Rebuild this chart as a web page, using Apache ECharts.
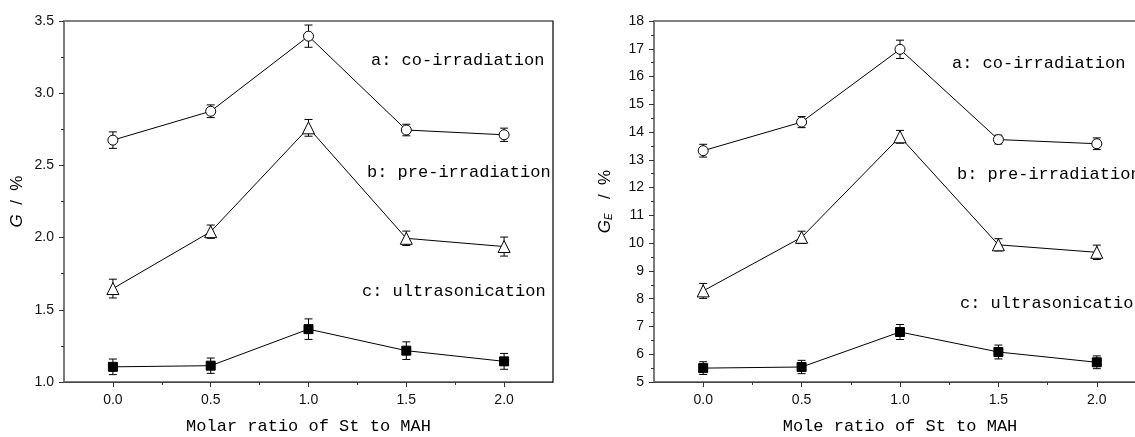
<!DOCTYPE html>
<html>
<head>
<meta charset="utf-8">
<script src="https://cdn.jsdelivr.net/npm/echarts@6/dist/echarts.min.js"></script>
<style>
  html, body { margin: 0; padding: 0; background: #fff; overflow: hidden; }
  #chart { width: 1135px; height: 437px; }
</style>
</head>
<body>
<div id="chart"></div>
<script>
// molar ratio St : MAH
const ratios = [0, 0.5, 1.0, 1.5, 2.0];
const majorTicks = [0, 0.5, 1.0, 1.5, 2.0];
const minorTicks = [0.25, 0.75, 1.25, 1.75];

// left panel: G / %
const gCoIrr = [2.675, 2.875, 3.395, 2.745, 2.712];
const gCoIrrErr = [0.057, 0.044, 0.077, 0.040, 0.046];
const gPreIrr = [1.647, 2.041, 2.760, 1.995, 1.938];
const gPreIrrErr = [0.065, 0.046, 0.058, 0.050, 0.066];
const gUltra = [1.105, 1.113, 1.366, 1.217, 1.143];
const gUltraErr = [0.054, 0.053, 0.071, 0.061, 0.055];

// right panel: GE / %
const geCoIrr = [13.33, 14.36, 16.98, 13.73, 13.58];
const geCoIrrErr = [0.23, 0.20, 0.33, 0.16, 0.21];
const gePreIrr = [8.28, 10.21, 13.83, 9.94, 9.67];
const gePreIrrErr = [0.27, 0.22, 0.23, 0.22, 0.26];
const geUltra = [5.50, 5.54, 6.80, 6.08, 5.71];
const geUltraErr = [0.23, 0.24, 0.27, 0.25, 0.23];

const labelA = 'a: co-irradiation';
const labelB = 'b: pre-irradiation';
const labelC = 'c: ultrasonication';

const mono = '"Liberation Mono", "DejaVu Sans Mono", monospace';
const sans = '"Liberation Sans", Arial, sans-serif';

const chart = echarts.init(document.getElementById('chart'));

function xAxes(grid, title) {
  return [
    {
      type: 'value', gridIndex: grid, min: -0.25, max: 2.25,
      name: title, nameLocation: 'middle', nameGap: 36,
      nameTextStyle: { fontFamily: mono, fontSize: 17, color: '#000' },
      axisLine: { onZero: false, lineStyle: { color: '#444', width: 1 } },
      axisTick: { inside: false, length: 5, customValues: majorTicks, lineStyle: { color: '#333' } },
      axisLabel: { customValues: majorTicks, margin: 11, fontFamily: sans, fontSize: 14, color: '#111',
        formatter: v => v.toFixed(1) },
      splitLine: { show: false }
    },
    {
      type: 'value', gridIndex: grid, min: -0.25, max: 2.25, position: 'bottom',
      axisLine: { show: false, onZero: false },
      axisTick: { length: 3, customValues: minorTicks, lineStyle: { color: '#333' } },
      axisLabel: { show: false },
      splitLine: { show: false }
    }
  ];
}

function yAxis(grid, min, max, interval, name, gap, fmt) {
  return {
    type: 'value', gridIndex: grid, min: min, max: max, interval: interval,
    name: name, nameLocation: 'middle', nameGap: gap, nameRotate: 90,
    nameTextStyle: {
      fontFamily: sans, fontSize: 17, color: '#000',
      rich: {
        i: { fontFamily: sans, fontStyle: 'italic', fontSize: 17, color: '#000' },
        sub: { fontFamily: sans, fontStyle: 'italic', fontSize: 10, color: '#000', verticalAlign: 'bottom', padding: [8, 0, 0, 0] }
      }
    },
    axisLine: { onZero: false, lineStyle: { color: '#7a7a7a', width: 2 } },
    axisTick: { length: 5, lineStyle: { color: '#333' } },
    minorTick: { show: true, splitNumber: 2, length: 3, lineStyle: { color: '#333' } },
    axisLabel: { margin: 10, fontFamily: sans, fontSize: 14, color: '#111', formatter: fmt },
    splitLine: { show: false }
  };
}

function lineSeries(xIdx, yIdx, ys, symbol, size, fill) {
  return {
    type: 'line', xAxisIndex: xIdx, yAxisIndex: yIdx,
    data: ratios.map((x, i) => [x, ys[i]]),
    symbol: symbol, symbolSize: size, showSymbol: true,
    lineStyle: { color: '#000', width: 1 },
    itemStyle: { color: fill, borderColor: '#000', borderWidth: 1 },
    z: 3, silent: true
  };
}

function errSeries(xIdx, yIdx, ys, errs) {
  return {
    type: 'custom', xAxisIndex: xIdx, yAxisIndex: yIdx,
    data: ratios.map((x, i) => [x, ys[i] - errs[i], ys[i] + errs[i]]),
    encode: { x: 0, y: [1, 2] },
    z: 2, silent: true,
    renderItem: function (params, api) {
      const x = api.value(0);
      const lo = api.coord([x, api.value(1)]);
      const hi = api.coord([x, api.value(2)]);
      const w = 4;
      const st = { stroke: '#000', lineWidth: 1 };
      return {
        type: 'group',
        children: [
          { type: 'line', shape: { x1: lo[0], y1: lo[1], x2: hi[0], y2: hi[1] }, style: st },
          { type: 'line', shape: { x1: lo[0] - w, y1: lo[1], x2: lo[0] + w, y2: lo[1] }, style: st },
          { type: 'line', shape: { x1: hi[0] - w, y1: hi[1], x2: hi[0] + w, y2: hi[1] }, style: st }
        ]
      };
    }
  };
}

function note(text, x, y) {
  return { type: 'text', left: x, top: y - 10, style: { text: text, font: '17px ' + mono, fill: '#000' } };
}

const panels = [
  { ys: [gCoIrr, gPreIrr, gUltra], errs: [gCoIrrErr, gPreIrrErr, gUltraErr] },
  { ys: [geCoIrr, gePreIrr, geUltra], errs: [geCoIrrErr, gePreIrrErr, geUltraErr] }
];
const marks = [['circle', 10, '#fff'], ['triangle', 12, '#fff'], ['rect', 9, '#000']];

const series = [];
panels.forEach((p, g) => {
  p.ys.forEach((ys, k) => {
    series.push(errSeries(g * 2, g, ys, p.errs[k]));
    series.push(lineSeries(g * 2, g, ys, marks[k][0], marks[k][1], marks[k][2]));
  });
});

chart.setOption({
  animation: false,
  backgroundColor: '#fff',
  grid: [
    { left: 64, top: 21, width: 489, height: 361, outerBoundsMode: 'none', show: true, borderColor: '#000', borderWidth: 1.2, backgroundColor: 'transparent' },
    { left: 654, top: 21, width: 492, height: 361, outerBoundsMode: 'none', show: true, borderColor: '#000', borderWidth: 1.2, backgroundColor: 'transparent' }
  ],
  xAxis: [].concat(xAxes(0, 'Molar ratio of St to MAH'), xAxes(1, 'Mole ratio of St to MAH')),
  yAxis: [
    yAxis(0, 1.0, 3.5, 0.5, '{i|G}  /  %', 38, v => v.toFixed(1)),
    yAxis(1, 5, 18, 1, '{i|G}{sub|E}   /  %', 40, v => String(v))
  ],
  series: series,
  graphic: [
    note(labelA, 371, 62),
    note(labelB, 367, 174),
    note(labelC, 362, 293),
    note(labelA, 952, 65),
    note(labelB, 957, 176),
    note(labelC, 960, 305)
  ]
});
</script>
</body>
</html>
